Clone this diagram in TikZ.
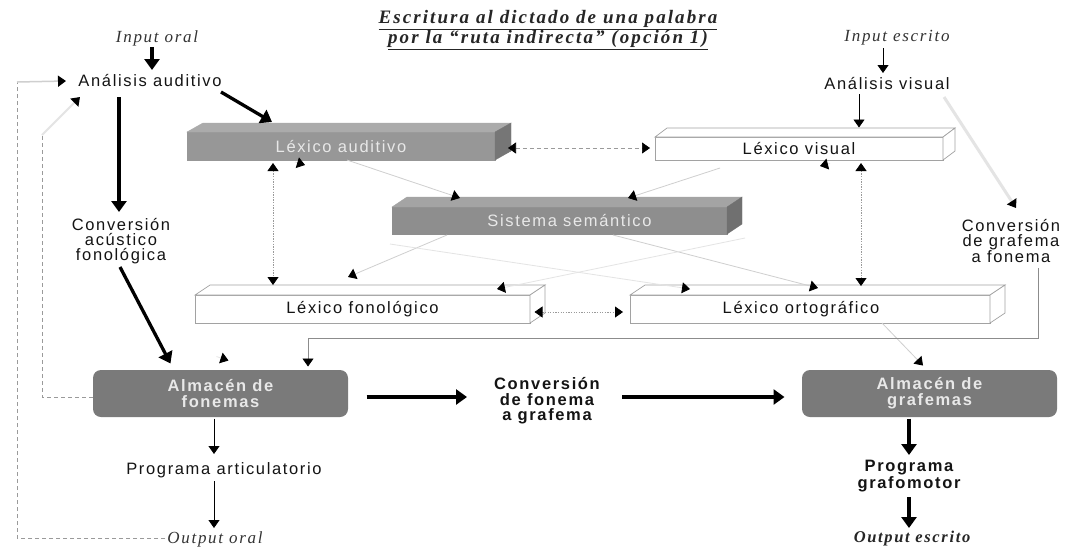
\documentclass[tikz,border=0pt]{standalone}
\usepackage{fontspec}
\setmainfont{Liberation Sans}[LetterSpace=10]
\newfontfamily\serifit{Liberation Serif}[LetterSpace=10]
\newfontfamily\titlefont{Liberation Serif}[LetterSpace=11]
\usetikzlibrary{arrows.meta,calc}
\definecolor{audfront}{HTML}{979797}
\definecolor{audtop}{HTML}{ABABAB}
\definecolor{audside}{HTML}{767676}
\definecolor{semfront}{HTML}{8E8E8E}
\definecolor{semtop}{HTML}{A4A4A4}
\definecolor{semside}{HTML}{707070}
\definecolor{almfill}{HTML}{7A7A7A}
\definecolor{boxline}{HTML}{A2A2A2}
\definecolor{lighttext}{HTML}{E8E8E8}
\definecolor{conngray}{HTML}{8C8C8C}
\definecolor{dashgray}{HTML}{9A9A9A}
\definecolor{faintgray}{HTML}{CFCFCF}
\definecolor{veryfaint}{HTML}{E4E4E4}
\newcommand\boxfaces[5]{%
  \path[#4] (#1.north west) -- ++(#2,-#3) -- ($(#1.north east)+(#2,-#3)$) -- (#1.north east) -- cycle;
  \path[#5] (#1.north east) -- ++(#2,-#3) -- ($(#1.south east)+(#2,-#3)$) -- (#1.south east) -- cycle;
}
\begin{document}
\begin{tikzpicture}[x=1pt,y=-1pt,
  txt/.style={inner sep=1pt, outer sep=0pt, text=black!92, align=center, font=\fontsize{16.5}{15}\selectfont},
  bld/.style={txt, font=\bfseries\fontsize{16.5}{15.5}\selectfont},
  ser/.style={txt, font=\serifit\itshape\fontsize{17}{17}\selectfont, text=black!80},
  front/.style={rectangle, inner sep=0pt, outer sep=0pt, font=\fontsize{16.5}{17}\selectfont},
  graybox/.style={front, fill=audfront, draw=audfront, text=lighttext},
  whitebox/.style={front, fill=white, draw=boxline, line width=0.7pt, text=black!92},
  almbox/.style={rectangle, rounded corners=8pt, fill=almfill, inner sep=0pt, outer sep=0pt, minimum width=255pt, minimum height=47pt, align=center, text=lighttext, font=\bfseries\fontsize{16.5}{16}\selectfont},
  thk/.style={line width=3.3pt, -{Triangle[length=11pt,width=15pt]}},
  thn/.style={line width=0.8pt, -{Triangle[length=8pt,width=11pt]}},
  gtip/.style={-{Triangle[length=8pt,width=11pt,color=black]}},
  gtips/.style={{Triangle[length=8pt,width=11pt,color=black]}-{Triangle[length=8pt,width=11pt,color=black]}},
  dsh/.style={draw=dashgray, line width=0.7pt, dash pattern=on 4pt off 3pt},
  dtt/.style={draw=dashgray, line width=0.8pt, dash pattern=on 1.3pt off 1.3pt},
  fnt/.style={draw=faintgray, line width=0.8pt},
  vfnt/.style={draw=veryfaint, line width=0.8pt}
]
\useasboundingbox (0,0) rectangle (1075,550);
\fill[white] (0,0) rectangle (1075,550);

% title
\node[align=center, inner sep=0pt, font=\titlefont\bfseries\itshape\fontsize{19}{17}\selectfont, text=black!85] (title) at (548,30)
  {\underline{Escritura al dictado de una palabra}\\\underline{por la “ruta indirecta” (opción 1)}};

% text nodes
\node[ser] (inoral) at (157,38) {Input oral};
\node[txt] (anaud) at (150,80) {Análisis auditivo};
\node[txt] (conac) at (121,241) {Conversión\\acústico\\fonológica};
\node[txt] (progart) at (224,470) {Programa articulatorio};
\node[ser] (outoral) at (215,539) {Output oral};
\node[ser] (inesc) at (897,38) {Input escrito};
\node[txt] (anavis) at (887,83) {Análisis visual};
\node[txt] (convgf) at (1011,241) {Conversión\\de grafema\\a fonema};
\node[bld] (convfg) at (547,401) {Conversión\\de fonema\\a grafema};
\node[bld, font=\bfseries\fontsize{16.5}{14.5}\selectfont] (progg) at (909,476) {Programa\\grafomotor};
\node[ser, font=\serifit\bfseries\itshape\fontsize{16.5}{17}\selectfont, text=black!85] (outesc) at (912,539) {Output escrito};

% 3D boxes
\node[graybox, minimum width=308pt, minimum height=28pt] (lexaud) at (341,146) {Léxico auditivo};
\boxfaces{lexaud}{16}{9}{fill=audtop,draw=audtop}{fill=audside,draw=audside}
\node[whitebox, minimum width=288pt, minimum height=23pt] (lexvis) at (799,148.5) {Léxico visual};
\boxfaces{lexvis}{12}{9}{fill=white,draw=boxline,line width=0.7pt}{fill=white,draw=boxline,line width=0.7pt}
\node[graybox, fill=semfront, draw=semfront, minimum width=335pt, minimum height=27pt] (sem) at (559.5,220.5) {\hspace*{20pt}Sistema semántico};
\boxfaces{sem}{15}{10}{fill=semtop,draw=semtop}{fill=semside,draw=semside}
\node[whitebox, minimum width=335pt, minimum height=28pt] (lexfon) at (362.5,309) {Léxico fonológico};
\boxfaces{lexfon}{15}{10}{fill=white,draw=boxline,line width=0.7pt}{fill=white,draw=boxline,line width=0.7pt}
\node[whitebox, minimum width=360pt, minimum height=28pt] (lexort) at (810,309) {Léxico ortográfico\hspace*{18pt}};
\boxfaces{lexort}{15}{10}{fill=white,draw=boxline,line width=0.7pt}{fill=white,draw=boxline,line width=0.7pt}

% stores
\node[almbox] (almfon) at (220.5,393.5) {Almacén de\\fonemas};
\node[almbox] (almgraf) at (929.5,393.5) {Almacén de\\grafemas};

% loop corners and free ends
\coordinate (oc) at (17,82);
\coordinate (ic) at (42,135);
\coordinate (xa) at (390,244);
\coordinate (xb) at (745,238);

% faint connectors
\draw[fnt, gtip] ($(lexaud)+(6,14)$) -- ($(sem)+(-99.5,-22.5)$);
\draw[fnt, gtip] ($(lexvis)+(-79,19.5)$) -- ($(sem)+(68.5,-22.5)$);
\draw[fnt, gtip] ($(sem)+(-112.5,14.5)$) -- ($(lexfon)+(-14.5,-32)$);
\draw[fnt, gtip] ($(sem)+(53.5,14.5)$) -- ($(lexort)+(8,-21)$);
\draw[vfnt, gtip] (xa) -- ($(lexort)+(-120,-20)$);
\draw[vfnt, gtip] (xb) -- ($(lexfon)+(134.5,-20)$);
\draw[fnt, gtip] ($(lexort)+(72,14)$) -- ($(almgraf)+(-6.5,-28)$);
\draw[draw=veryfaint, line width=3pt, gtip] ($(anavis)+(57,14)$) -- ($(convgf)+(5,-33)$);
\draw[vfnt, gtip] ($(lexaud)+(-46,16)$) -- ($(lexaud)+(-36,19)$);
\draw[vfnt, gtip] ($(lexvis)+(31,15)$) -- ($(lexvis)+(21,17.5)$);
\draw[vfnt, gtip] ($(almfon)+(-4,-37)$) -- ($(almfon)+(8,-33)$);

% dashed / dotted connectors
\draw[dsh, gtips] ($(lexaud)+(167,2)$) -- ($(lexvis)+(-149,-0.5)$);
\draw[dtt, gtips] ($(lexaud)+(-68,17)$) -- ($(lexfon)+(-89.5,-24)$);
\draw[dtt, gtips] ($(lexvis)+(62,14.5)$) -- ($(lexort)+(51,-23)$);
\draw[dtt, gtips] ($(lexfon)+(172,3)$) -- ($(lexort)+(-187,3)$);
\draw[dsh] ($(outoral)+(-50,-1)$) -| (oc);
\draw[draw=faintgray, line width=1.5pt, gtip] (oc) -- ($(anaud)+(-84,1)$);
\draw[dsh] ($(almfon)+(-128,3.5)$) -| (ic);
\draw[draw=veryfaint, line width=2pt, gtip] (ic) -- ($(anaud)+(-70,17)$);

% gray route
\draw[draw=conngray, line width=0.8pt, gtip] ($(convgf)+(27,27)$) |- ($(almfon)+(87.5,-55.5)$) -- ($(almfon)+(87.5,-27)$);

% thin black arrows
\draw[thn] ($(almfon)+(-6.5,25)$) -- ($(progart)+(-10,-16)$);
\draw[thn] ($(progart)+(-10,11)$) -- ($(outoral)+(-1,-11)$);
\draw[thn] ($(inesc)+(-14,10)$) -- ($(anavis)+(-4,-10)$);
\draw[thn] ($(anavis)+(-28,11)$) -- ($(lexvis)+(60,-21)$);

% thick black arrows
\draw[thk] ($(inoral)+(-5,9)$) -- ($(anaud)+(2,-10)$);
\draw[thk] ($(anaud)+(-31,17)$) -- ($(conac)+(-2,-29)$);
\draw[thk] ($(anaud)+(71,12)$) -- ($(lexaud)+(-69,-24)$);
\draw[thk] ($(conac)+(-1,26)$) -- ($(almfon)+(-50,-30)$);
\draw[thk] ($(almfon)+(146,3.5)$) -- ($(convfg)+(-80,-4)$);
\draw[thk] ($(convfg)+(75,-4)$) -- ($(almgraf)+(-145,3.5)$);
\draw[thk] ($(almgraf)+(-20.5,25)$) -- ($(progg)+(0,-21)$);
\draw[thk] ($(progg)+(0,21)$) -- ($(outesc)+(-3,-11)$);
\end{tikzpicture}
\end{document}
